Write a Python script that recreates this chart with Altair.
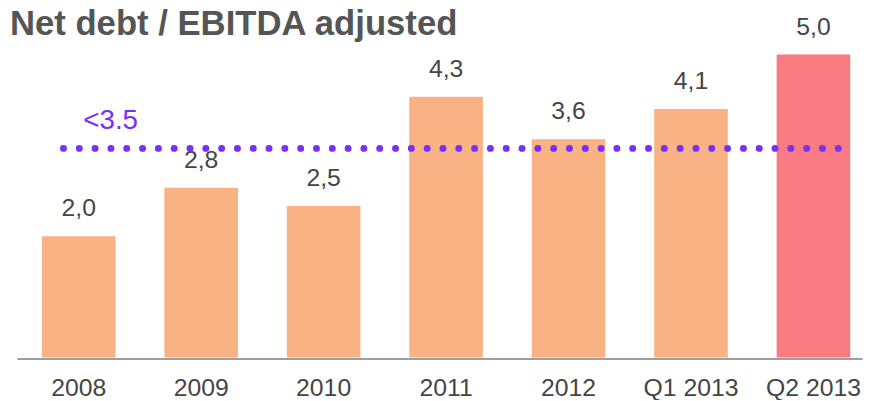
import altair as alt
import pandas as pd

categories = ["2008", "2009", "2010", "2011", "2012", "Q1 2013", "Q2 2013"]
values = [2.0, 2.8, 2.5, 4.3, 3.6, 4.1, 5.0]
kinds = ["year", "year", "year", "year", "year", "year", "latest"]
target_value = 3.45
target_label = "<3.5"
title_text = "Net debt / EBITDA adjusted"

df = pd.DataFrame({"period": categories, "ratio": values, "kind": kinds})
target_df = pd.DataFrame({"target": [target_value], "label": [target_label]})

FONT = "Liberation Sans"
TEXT_GRAY = "#454545"
PURPLE = "#7a2ff7"

x_scale = alt.Scale(paddingInner=0.399, paddingOuter=0.15, align=0.68)
y_scale = alt.Scale(domain=[0, 5], zero=True, nice=False)

base = alt.Chart(df)

bars = base.mark_bar().encode(
    x=alt.X("period:N", sort=categories, scale=x_scale,
            axis=alt.Axis(title=None, labelAngle=0, ticks=False, labelFont=FONT,
                          labelFontSize=25, labelColor=TEXT_GRAY, domainColor="#9e9e9e",
                          domainWidth=2, labelPadding=37, offset=1,
                          labelBaseline="alphabetic", grid=False)),
    y=alt.Y("ratio:Q", scale=y_scale, axis=None),
    color=alt.Color("kind:N", scale=alt.Scale(domain=["year", "latest"],
                                              range=["#f8b284", "#f77b80"]), legend=None),
)

value_labels = base.transform_calculate(
    lab="replace(format(datum.ratio, '.1f'), '.', ',')"
).mark_text(font=FONT, fontSize=25, color=TEXT_GRAY, baseline="alphabetic",
            align="center", dy=-20).encode(
    x=alt.X("period:N", sort=categories, scale=x_scale),
    y=alt.Y("ratio:Q", scale=y_scale),
    text="lab:N",
)

target_rule = alt.Chart(target_df).mark_rule(
    color=PURPLE, strokeWidth=7, strokeDash=[0, 15.96], strokeCap="round"
).encode(
    y=alt.Y("target:Q", scale=y_scale),
    x=alt.value(47),
    x2=alt.value(845),
)

target_text = alt.Chart(target_df).mark_text(
    font=FONT, fontSize=28, color=PURPLE, align="left", baseline="alphabetic", dy=-20
).encode(
    y=alt.Y("target:Q", scale=y_scale),
    x=alt.value(67),
    text="label:N",
)

title_mark = alt.Chart(target_df).mark_text(
    font=FONT, fontSize=35, fontWeight="bold", color="#555555",
    align="left", baseline="alphabetic", text=title_text
).encode(
    x=alt.value(-7),
    y=alt.value(-20),
)

chart = alt.layer(bars, value_labels, target_rule, target_text, title_mark).properties(
    width=853,
    height=306,
    padding={"left": 9, "top": 45, "right": 2, "bottom": 41},
    autosize=alt.AutoSizeParams(type="none"),
).configure_view(strokeWidth=0).resolve_scale(x="shared", y="shared")

chart.save("out.html", embed_options={"renderer": "svg", "actions": False})
